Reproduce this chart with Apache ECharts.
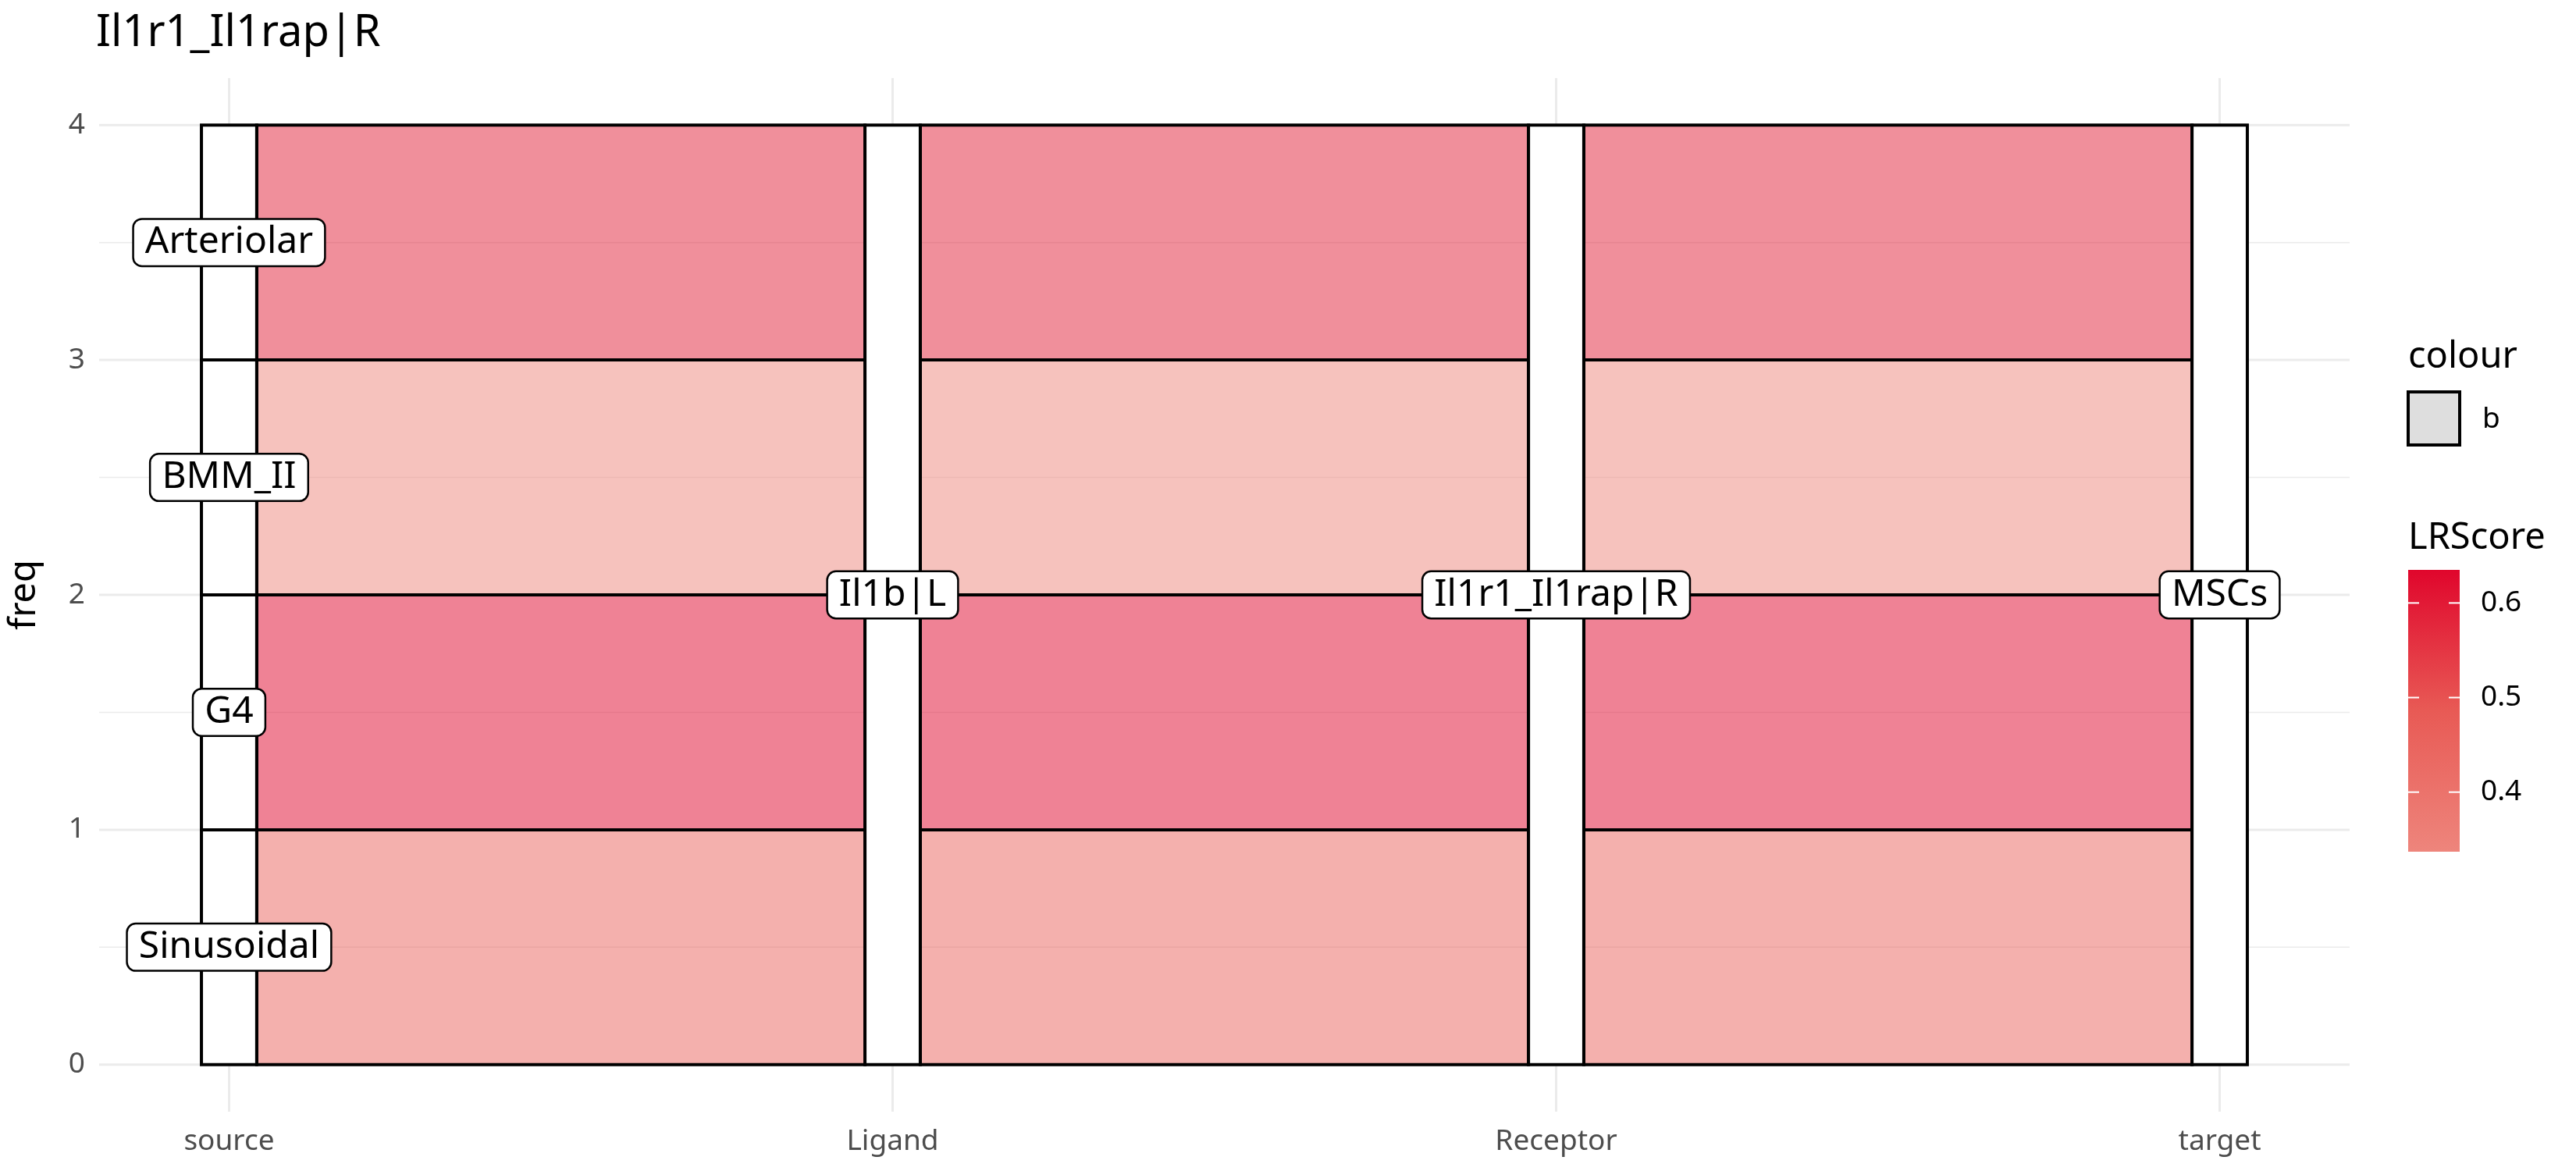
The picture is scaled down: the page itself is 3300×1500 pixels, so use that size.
<!DOCTYPE html>
<html>
<head>
<meta charset="utf-8">
<script src="https://cdn.jsdelivr.net/npm/echarts@6/dist/echarts.min.js"></script>
<style>
  html, body { margin: 0; padding: 0; background: #fff; }
  #chart { width: 3300px; height: 1500px; }
</style>
</head>
<body>
<div id="chart"></div>
<script>
// axes of the alluvial plot
const axisNames = ['source', 'Ligand', 'Receptor', 'target'];
// source strata, bottom to top
const sourceCells = ['Sinusoidal', 'G4', 'BMM_II', 'Arteriolar'];
const sourceFreq = [1, 1, 1, 1];
const lrScore = [0.46, 0.635, 0.337, 0.59];
const ligandName = 'Il1b|L';
const receptorName = 'Il1r1_Il1rap|R';
const targetName = 'MSCs';
// ticks
const yTicks = [0, 1, 2, 3, 4];
const yMinorTicks = [0.5, 1.5, 2.5, 3.5];
const xTicks = [1, 2, 3, 4];
const scoreTicks = [0.4, 0.5, 0.6];
const scoreRange = [0.337, 0.635];
const scoreColors = ['#EE857C', '#E85A55', '#E0062C'];

const FONT = 'Noto Sans';
const stratumWidth = 1 / 12;
const total = sourceFreq.reduce((a, b) => a + b, 0);
// ggplot style 5% expansion
const xSpan = (xTicks[xTicks.length - 1] + stratumWidth / 2) - (xTicks[0] - stratumWidth / 2);
const xMin = xTicks[0] - stratumWidth / 2 - 0.05 * xSpan;
const xMax = xTicks[xTicks.length - 1] + stratumWidth / 2 + 0.05 * xSpan;
const yMin = -0.05 * total, yMax = total * 1.05;

// stacked positions of source cells
const lows = [], highs = [];
let acc = 0;
sourceFreq.forEach(f => { lows.push(acc); acc += f; highs.push(acc); });

// gridlines: [kind, value]; 0 = vertical major, 1 = horizontal major, 2 = horizontal minor
const gridRows = [];
xTicks.forEach(v => gridRows.push([0, v]));
yTicks.forEach(v => gridRows.push([1, v]));
yMinorTicks.forEach(v => gridRows.push([2, v]));

// flows between consecutive axes: [x0, x1, y0, y1, score]
const flowRows = [];
for (let g = 0; g < xTicks.length - 1; g++) {
  sourceCells.forEach((s, i) => {
    flowRows.push([xTicks[g] + stratumWidth / 2, xTicks[g + 1] - stratumWidth / 2, lows[i], highs[i], lrScore[i]]);
  });
}

// strata: [x, y0, y1]
const strataRows = [];
sourceCells.forEach((s, i) => strataRows.push([xTicks[0], lows[i], highs[i]]));
for (let a = 1; a < xTicks.length; a++) strataRows.push([xTicks[a], 0, total]);

// labels
const labelTexts = [];
const labelRows = [];
sourceCells.forEach((s, i) => { labelTexts.push(s); labelRows.push([xTicks[0], (lows[i] + highs[i]) / 2]); });
[ligandName, receptorName, targetName].forEach((n, a) => { labelTexts.push(n); labelRows.push([xTicks[a + 1], total / 2]); });

const chart = echarts.init(document.getElementById('chart'));

// colour bar legend geometry
const barX = 3085, barW = 66, barTop = 730, barH = 361;
const scoreToY = v => barTop + (scoreRange[1] - v) / (scoreRange[1] - scoreRange[0]) * barH;
const legendGraphics = [
  { type: 'text', x: barX, y: 458, style: { text: 'colour', font: `47px "${FONT}"`, fill: '#000', verticalAlign: 'middle' } },
  { type: 'rect', shape: { x: barX, y: 502, width: barW, height: 68 }, style: { fill: '#DEDEDE', stroke: '#000', lineWidth: 4 } },
  { type: 'text', x: 3180, y: 537, style: { text: 'b', font: `37px "${FONT}"`, fill: '#000', verticalAlign: 'middle' } },
  { type: 'text', x: barX, y: 690, style: { text: 'LRScore', font: `47px "${FONT}"`, fill: '#000', verticalAlign: 'middle' } },
  {
    type: 'rect', shape: { x: barX, y: barTop, width: barW, height: barH },
    style: {
      fill: new echarts.graphic.LinearGradient(0, 1, 0, 0,
        scoreColors.map((c, i) => ({ offset: i / (scoreColors.length - 1), color: c })))
    }
  }
];
scoreTicks.forEach(v => {
  const y = scoreToY(v);
  legendGraphics.push({ type: 'line', shape: { x1: barX, y1: y, x2: barX + 14, y2: y }, style: { stroke: '#fff', lineWidth: 2 } });
  legendGraphics.push({ type: 'line', shape: { x1: barX + barW - 14, y1: y, x2: barX + barW, y2: y }, style: { stroke: '#fff', lineWidth: 2 } });
  legendGraphics.push({ type: 'text', x: 3178, y: y, style: { text: v.toFixed(1), font: `37px "${FONT}"`, fill: '#000', verticalAlign: 'middle' } });
});

chart.setOption({
  animation: false,
  backgroundColor: '#fff',
  title: {
    text: receptorName, left: 118, top: 10,
    textStyle: { fontSize: 56, fontWeight: 'normal', color: '#000', fontFamily: FONT }
  },
  grid: { left: 106, right: 290, top: 100, bottom: 76, containLabel: false },
  xAxis: {
    type: 'value', min: xMin, max: xMax,
    axisLine: { show: false }, axisTick: { show: false }, splitLine: { show: false },
    axisLabel: {
      customValues: xTicks, formatter: v => axisNames[Math.round(v) - 1] || '',
      fontSize: 37, color: '#4D4D4D', fontFamily: FONT, margin: 20
    }
  },
  yAxis: {
    type: 'value', min: yMin, max: yMax,
    name: 'freq', nameLocation: 'middle', nameGap: 72, nameRotate: 90,
    nameTextStyle: { fontSize: 47, color: '#000', fontFamily: FONT },
    axisLine: { show: false }, axisTick: { show: false }, splitLine: { show: false },
    axisLabel: { customValues: yTicks, fontSize: 37, color: '#4D4D4D', fontFamily: FONT, margin: 18 }
  },
  visualMap: {
    type: 'continuous', show: false, seriesIndex: 1, dimension: 4,
    min: scoreRange[0], max: scoreRange[1], inRange: { color: scoreColors }
  },
  graphic: legendGraphics,
  series: [
    {
      type: 'custom', z: 1, silent: true, data: gridRows,
      renderItem(params, api) {
        const kind = api.value(0), v = api.value(1);
        const p1 = kind === 0 ? api.coord([v, yMin]) : api.coord([xMin, v]);
        const p2 = kind === 0 ? api.coord([v, yMax]) : api.coord([xMax, v]);
        return {
          type: 'line',
          shape: { x1: p1[0], y1: p1[1], x2: p2[0], y2: p2[1] },
          style: { stroke: '#EBEBEB', lineWidth: kind === 2 ? 1.5 : 3 }
        };
      }
    },
    {
      type: 'custom', z: 2, silent: true, data: flowRows,
      renderItem(params, api) {
        const a = api.coord([api.value(0), api.value(3)]);
        const b = api.coord([api.value(1), api.value(2)]);
        const shape = { x: a[0], y: a[1], width: b[0] - a[0], height: b[1] - a[1] };
        return {
          type: 'group',
          children: [
            { type: 'rect', shape, style: { fill: api.visual('color'), opacity: 0.5 } },
            { type: 'rect', shape, style: { fill: 'none', stroke: '#000', lineWidth: 4 } }
          ]
        };
      }
    },
    {
      type: 'custom', z: 3, silent: true, data: strataRows,
      renderItem(params, api) {
        const x = api.value(0);
        const a = api.coord([x - stratumWidth / 2, api.value(2)]);
        const b = api.coord([x + stratumWidth / 2, api.value(1)]);
        return {
          type: 'rect',
          shape: { x: a[0], y: a[1], width: b[0] - a[0], height: b[1] - a[1] },
          style: { fill: '#fff', stroke: '#000', lineWidth: 4 }
        };
      }
    },
    {
      type: 'custom', z: 4, silent: true, data: labelRows,
      renderItem(params, api) {
        const p = api.coord([api.value(0), api.value(1)]);
        return {
          type: 'text', x: p[0], y: p[1],
          style: {
            text: labelTexts[params.dataIndex],
            align: 'center', verticalAlign: 'middle',
            fontSize: 48, fontFamily: FONT, fill: '#000',
            backgroundColor: '#fff', borderColor: '#000', borderWidth: 2.5, borderRadius: 10,
            padding: [5, 14]
          }
        };
      }
    }
  ]
});
</script>
</body>
</html>
